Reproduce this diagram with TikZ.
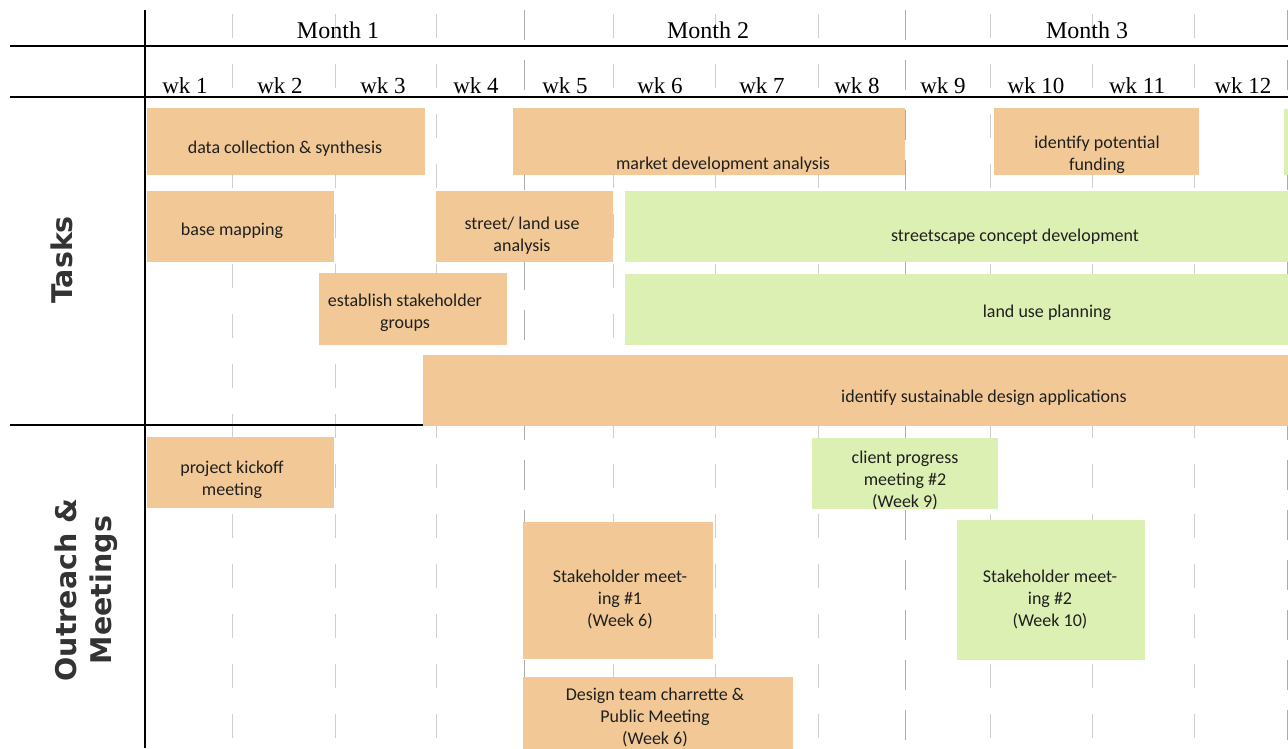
\documentclass[tikz,border=0pt]{standalone}
\usepackage{fontspec}
\setmainfont{Liberation Serif}
\newfontfamily\bodyfont{Carlito}
\newfontfamily\sidefont{DejaVu Sans}
\definecolor{barorange}{HTML}{F2C996}
\definecolor{bargreen}{HTML}{DDF0B4}
\definecolor{gridgray}{HTML}{CFCFCF}
\definecolor{monthgray}{HTML}{ABABAB}
\definecolor{sidegray}{HTML}{333333}
\tikzset{
  orangebar/.style={fill=barorange, draw=none, inner sep=0pt, anchor=north west},
  greenbar/.style={fill=bargreen, draw=none, inner sep=0pt, anchor=north west},
  bartext/.style={font=\bodyfont\fontsize{18}{22}\selectfont, text=black!88, align=center, inner sep=0pt, yshift=-2pt},
  monthlabel/.style={font=\fontsize{24}{28}\selectfont, anchor=base, inner sep=0pt},
  weeklabel/.style={font=\fontsize{23}{28}\selectfont, anchor=base, inner sep=0pt},
  sidelabel/.style={font=\sidefont\bfseries\fontsize{28.5}{35}\selectfont, text=sidegray, rotate=90, align=center, inner sep=0pt},
  gridline/.style={draw=gridgray, line width=0.9pt, dash pattern=on 24pt off 26pt},
  monthline/.style={draw=monthgray, line width=1pt, dash pattern=on 30pt off 20pt},
  axisline/.style={draw=black, line width=1.4pt},
}
\newcommand{\gbar}[9]{%
  \node[#2, minimum width={(#5-#3)*1pt}, minimum height={(#6-#4)*1pt}] (#1) at (#3,#4) {};
  \node[bartext] (#1-t) at (#7,#8) {#9};
}
\begin{document}
\begin{tikzpicture}[x=1pt,y=-1pt]
\fill[white] (0,0) rectangle (1288,748);
\useasboundingbox (0,0) rectangle (1288,748);
% grid
\foreach \x in {232,335,436,613,715,818,990,1092,1194}
  \draw[gridline] (\x,14) -- (\x,748);
\foreach \x in {524,905,1287}
  \draw[monthline] (\x,10) -- (\x,748);
% axes
\draw[axisline] (10,46) -- (1288,46);
\draw[axisline] (10,97) -- (1288,97);
\draw[axisline] (10,425) -- (423,425);
% header
\node[monthlabel] (m1) at (338,38) {Month 1};
\node[monthlabel] (m2) at (708,38) {Month 2};
\node[monthlabel] (m3) at (1087,38) {Month 3};
\foreach \n/\x in {1/185,2/280,3/383,4/476,5/565,6/660,7/762,8/857,9/943,10/1036,11/1137,12/1243}
  \node[weeklabel] (wk\n) at (\x,93) {wk \n};
% tasks
\gbar{t1}{orangebar}{147}{108}{425}{175}{285}{147}{data collection \& synthesis}
\gbar{t2}{orangebar}{513}{108}{905}{175}{723}{163}{market development analysis}
\gbar{t3}{orangebar}{994}{108}{1199}{175}{1097}{153}{identify potential\\funding}
\node[greenbar, minimum width=4pt, minimum height=66pt] (t4) at (1284,109) {};
\gbar{t5}{orangebar}{147}{191}{334}{262}{232}{229}{base mapping}
\gbar{t6}{orangebar}{436}{191}{613}{262}{522}{234}{street/ land use\\analysis}
\gbar{t7}{greenbar}{625}{191}{1288}{262}{1015}{235}{streetscape concept development}
\gbar{t8}{orangebar}{319}{273}{507}{345}{405}{311}{establish stakeholder\\groups}
\gbar{t9}{greenbar}{625}{274}{1288}{345}{1047}{311}{land use planning}
\gbar{t10}{orangebar}{423}{355}{1288}{426}{984}{396}{identify sustainable design applications}
% outreach
\gbar{o1}{orangebar}{147}{437}{334}{508}{232}{478}{project kickoff\\meeting}
\gbar{o2}{greenbar}{812}{438}{998}{509}{905}{478}{client progress\\meeting \#2\\(Week 9)}
\gbar{o3}{orangebar}{523}{522}{713}{659}{620}{597}{Stakeholder meet-\\ing \#1\\(Week 6)}
\gbar{o4}{greenbar}{957}{520}{1145}{660}{1050}{597}{Stakeholder meet-\\ing \#2\\(Week 10)}
\gbar{o5}{orangebar}{523}{677}{793}{760}{655}{715}{Design team charrette \&\\Public Meeting\\(Week 6)}
% vertical axis on top
\draw[axisline] (145,10) -- (145,748);
% side labels
\node[sidelabel] (tasks) at (62,260) {Tasks};
\node[sidelabel] (outreach) at (86,590) {Outreach \&\\Meetings};
\end{tikzpicture}
\end{document}
